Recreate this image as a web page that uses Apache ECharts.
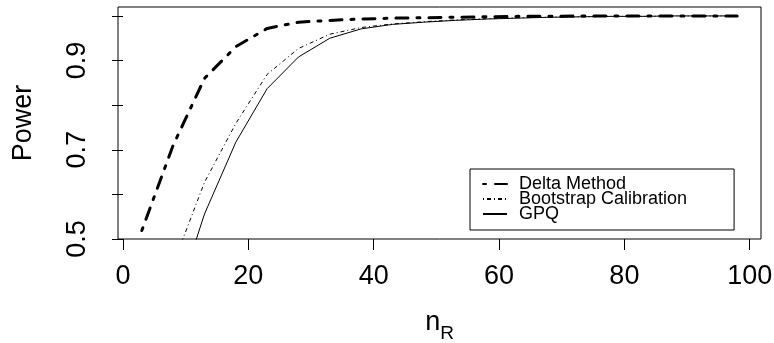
<!DOCTYPE html>
<html>
<head>
<meta charset="utf-8">
<script src="https://cdn.jsdelivr.net/npm/echarts@6/dist/echarts.min.js"></script>
<style>
  html, body { margin: 0; padding: 0; background: #fff; }
  #chart { width: 774px; height: 343px; }
</style>
</head>
<body>
<div id="chart"></div>
<script>
// sample sizes n_R
const nR = [3, 8, 13, 18, 23, 28, 33, 38, 43, 48, 53, 58, 63, 68, 73, 78, 83, 88, 93, 98];
// power curves
const deltaMethod = [0.519, 0.71, 0.86, 0.931, 0.972, 0.986, 0.99, 0.993, 0.995, 0.996, 0.997, 0.998, 0.999, 0.999, 1, 1, 1, 1, 1, 1];
const bootstrapCal = [0.28, 0.443, 0.627, 0.759, 0.869, 0.927, 0.959, 0.974, 0.982, 0.987, 0.991, 0.994, 0.996, 0.997, 0.998, 0.999, 0.999, 1, 1, 1];
const gpq = [0.2, 0.34, 0.556, 0.717, 0.837, 0.908, 0.95, 0.971, 0.981, 0.986, 0.99, 0.993, 0.995, 0.997, 0.998, 0.999, 0.999, 1, 1, 1];

const xTicks = [0, 20, 40, 60, 80, 100];
const yTicks = [0.5, 0.6, 0.7, 0.8, 0.9, 1.0];
const yLabels = [0.5, 0.7, 0.9];

const font = "'Liberation Sans', Arial, Helvetica, sans-serif";

const pairs = (ys) => nR.map((x, i) => [x, ys[i]]);

const chart = echarts.init(document.getElementById("chart"), null, { renderer: "canvas" });

const option = {
  animation: false,
  grid: {
    left: 118,
    right: 13,
    top: 7,
    bottom: 104,
    outerBoundsMode: "none",
    containLabel: false,
    show: true,
    borderColor: "#000",
    borderWidth: 1,
    backgroundColor: "transparent",
  },
  xAxis: {
    type: "value",
    min: -0.8,
    max: 101.8,
    name: "{n|n}{sub|R}",
    nameLocation: "middle",
    nameGap: 70,
    nameTextStyle: {
      rich: {
        n: { fontSize: 27, fontFamily: font, color: "#000", lineHeight: 34, verticalAlign: "top" },
        sub: { fontSize: 19, fontFamily: font, color: "#000", lineHeight: 34, verticalAlign: "bottom" },
      },
    },
    axisLine: { show: false },
    axisTick: {
      show: true,
      length: 11,
      customValues: xTicks,
      lineStyle: { color: "#000", width: 1 },
    },
    axisLabel: {
      customValues: xTicks,
      margin: 24,
      fontSize: 27,
      fontFamily: font,
      color: "#000",
    },
    splitLine: { show: false },
  },
  yAxis: {
    type: "value",
    min: 0.5,
    max: 1.02,
    name: "Power",
    nameLocation: "middle",
    nameRotate: 90,
    nameGap: 81,
    nameTextStyle: { fontSize: 27, fontFamily: font, color: "#000" },
    axisLine: { show: false },
    axisTick: {
      show: true,
      length: 11,
      customValues: yTicks,
      lineStyle: { color: "#000", width: 1 },
    },
    axisLabel: {
      customValues: yLabels,
      rotate: 90,
      margin: 27,
      fontSize: 27,
      fontFamily: font,
      color: "#000",
      formatter: (v) => v.toFixed(1),
    },
    splitLine: { show: false },
  },
  legend: {
    orient: "vertical",
    left: 470,
    top: 169,
    padding: [6, 47, 7, 12],
    itemWidth: 24,
    itemHeight: 14,
    itemGap: -3,
    borderColor: "#000",
    borderWidth: 1,
    borderRadius: 0,
    backgroundColor: "#fff",
    itemStyle: { opacity: 0 },
    textStyle: {
      fontSize: 18,
      fontFamily: font,
      color: "#000",
      lineHeight: 14,
      padding: [0, 0, 0, 7],
    },
    data: ["Delta Method", "Bootstrap Calibration", "GPQ"],
  },
  series: [
    {
      name: "Delta Method",
      type: "line",
      data: pairs(deltaMethod),
      symbol: "none",
      color: "#000",
      lineStyle: { color: "#000", width: 3, type: [3, 9, 12, 9], cap: "round" },
    },
    {
      name: "Bootstrap Calibration",
      type: "line",
      data: pairs(bootstrapCal),
      symbol: "none",
      color: "#000",
      lineStyle: { color: "#000", width: 1, type: [1, 3, 4, 3] },
    },
    {
      name: "GPQ",
      type: "line",
      data: pairs(gpq),
      symbol: "none",
      color: "#000",
      lineStyle: { color: "#000", width: 1 },
    },
  ],
};

chart.setOption(option);
</script>
</body>
</html>
